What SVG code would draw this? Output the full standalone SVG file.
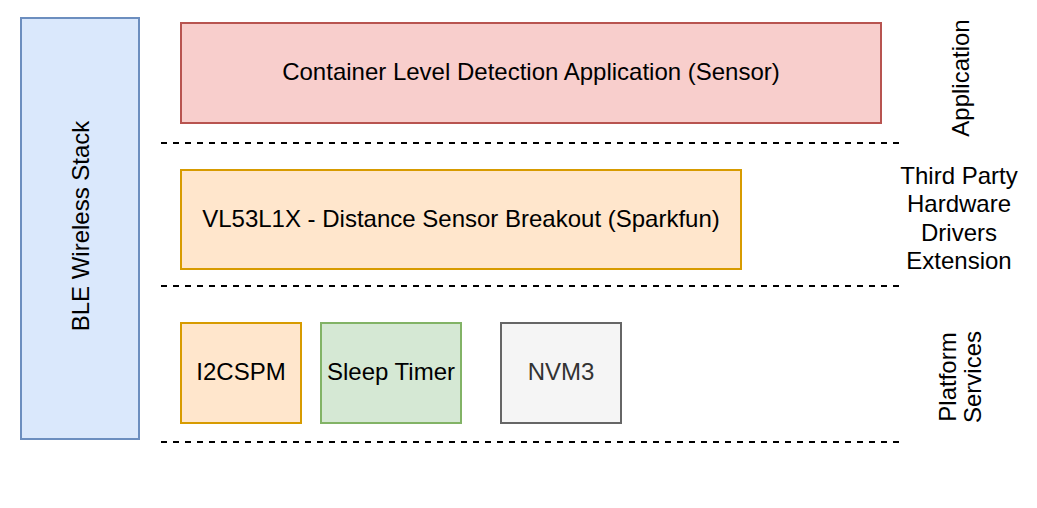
<svg xmlns="http://www.w3.org/2000/svg" width="1037" height="508" viewBox="0 0 1037 508">
<style>
text{font-family:"Liberation Sans",Arial,sans-serif;font-size:24px;fill:#000;text-anchor:middle;dominant-baseline:central}
rect{stroke-width:2}
.sep{stroke:#000;stroke-width:2;stroke-dasharray:6 6;fill:none}
</style>
<rect width="1037" height="508" fill="#fff"/>
<g id="ble"><rect x="21" y="18" width="118" height="421" fill="#dae8fc" stroke="#6c8ebf"/><text transform="translate(80 226) rotate(-90)">BLE Wireless Stack</text></g>
<g id="app"><rect x="181" y="23" width="700" height="100" fill="#f8cecc" stroke="#b85450"/><text x="531" y="71">Container Level Detection Application (Sensor)</text></g>
<g id="vl53"><rect x="181" y="170" width="560" height="99" fill="#ffe6cc" stroke="#d79b00"/><text x="461" y="218">VL53L1X - Distance Sensor Breakout (Sparkfun)</text></g>
<g id="i2cspm"><rect x="181" y="323" width="120" height="100" fill="#ffe6cc" stroke="#d79b00"/><text x="241" y="371">I2CSPM</text></g>
<g id="sleep"><rect x="321" y="323" width="140" height="100" fill="#d5e8d4" stroke="#82b366"/><text x="391" y="371">Sleep Timer</text></g>
<g id="nvm3"><rect x="501" y="323" width="120" height="100" fill="#f5f5f5" stroke="#666666"/><text x="561" y="371" style="fill:#333333">NVM3</text></g>
<g id="separators">
<line class="sep" x1="161" y1="143" x2="900" y2="143"/>
<line class="sep" x1="161" y1="286" x2="900" y2="286"/>
<line class="sep" x1="161" y1="442" x2="900" y2="442"/>
</g>
<g id="lbl-app"><text transform="translate(960 78) rotate(-90)">Application</text></g>
<g id="lbl-third"><text x="959" y="175">Third Party</text><text x="959" y="203">Hardware</text><text x="959" y="232">Drivers</text><text x="959" y="260">Extension</text></g>
<g id="lbl-platform"><text transform="translate(959 377) rotate(-90)"><tspan x="0" y="-12.5">Platform</tspan><tspan x="0" y="12.5">Services</tspan></text></g>
</svg>
